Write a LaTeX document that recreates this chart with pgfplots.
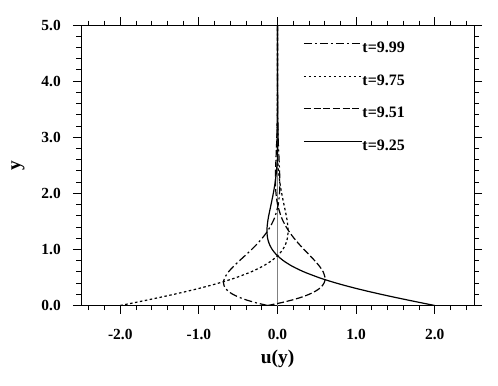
\documentclass[border=0pt]{standalone}
\usepackage{fontspec}
\setmainfont{Liberation Serif}
\usepackage{pgfplots}
\pgfplotsset{compat=1.18}
\begin{document}
\begin{tikzpicture}
\useasboundingbox (-81bp,-80.5bp) rectangle (417bp,305.5bp);
\begin{axis}[
  at={(0,0)}, anchor=south west,
  scale only axis, width=393bp, height=280.5bp,
  xmin=-2.5, xmax=2.5, ymin=0, ymax=5,
  xtick={-2,-1,0,1,2}, xticklabels={-2.0,-1.0,0.0,1.0,2.0},
  ytick={0,1,2,3,4,5}, yticklabels={0.0,1.0,2.0,3.0,4.0,5.0},
  minor xtick={-2.4,-2.2,-1.8,-1.6,-1.4,-1.2,-0.8,-0.6,-0.4,-0.2,0.2,0.4,0.6,0.8,1.2,1.4,1.6,1.8,2.2,2.4},
  minor ytick={0.2,0.4,0.6,0.8,1.2,1.4,1.6,1.8,2.2,2.4,2.6,2.8,3.2,3.4,3.6,3.8,4.2,4.4,4.6,4.8},
  tick align=outside,
  major tick length=8bp, minor tick length=4.5bp,
  tick style={black, line width=0.8bp},
  axis line style={line width=0.8bp},
  tick label style={font=\fontsize{15.5}{17}\selectfont\bfseries},
  xticklabel style={anchor=base, inner sep=0pt, yshift=-25.5bp},
  yticklabel style={anchor=east, inner sep=0pt, xshift=-12bp},
  xlabel={u(y)}, ylabel={y},
  label style={font=\fontsize{19.5}{21}\selectfont\bfseries},
  xlabel style={at={(axis description cs:0.5,-0.1907)}, anchor=center},
  ylabel style={at={(axis description cs:-0.1603,0.5)}, anchor=center},
  legend style={draw=none, fill=none, inner sep=0pt, at={(0.565,1)}, anchor=north west, yshift=-17.3bp,
    nodes={inner sep=0pt, text height=10bp, text depth=3bp, font=\fontsize{16}{18}\selectfont\bfseries},
    row sep=19.5bp},
  legend image code/.code={\draw[#1] (0bp,5.4bp) -- (58bp,5.4bp);},
  legend cell align=left,
]
\addplot[gray, line width=0.4bp, forget plot] coordinates {(0,0) (0,5)};
% t=9.99 dash-dot
\addplot[black, line width=1.2bp, smooth, dash pattern=on 8bp off 3bp on 2bp off 3bp] coordinates {
(-0.126,0) (-0.2766,0.05) (-0.3987,0.1) (-0.4952,0.15) (-0.5689,0.2) (-0.6225,0.25) (-0.6585,0.3) (-0.6791,0.35) (-0.6866,0.4) (-0.6830,0.45) (-0.6702,0.5) (-0.6234,0.6) (-0.5579,0.7) (-0.4824,0.8) (-0.4043,0.9) (-0.3279,1.0) (-0.2573,1.1) (-0.1942,1.2) (-0.1396,1.3) (-0.0940,1.4) (-0.0571,1.5) (-0.0281,1.6) (0.0092,1.8) (0.0261,2.0) (0.0295,2.2) (0.0262,2.4) (0.0200,2.6) (0.0134,2.8) (0.0077,3.0) (0.0,3.5) (0,4) (0,4.5) (0,5)};
\addlegendentry{t=9.99}
% t=9.75 dotted
\addplot[black, line width=1.2bp, smooth, dash pattern=on 2.5bp off 2.5bp] coordinates {
(-2.0,0) (-1.8232,0.05) (-1.6487,0.1) (-1.4791,0.15) (-1.3157,0.2) (-1.1600,0.25) (-1.0129,0.3) (-0.8750,0.35) (-0.7470,0.4) (-0.6291,0.45) (-0.5212,0.5) (-0.3354,0.6) (-0.1874,0.7) (-0.0737,0.8) (0.0099,0.9) (0.0681,1.0) (0.1053,1.1) (0.1259,1.2) (0.1336,1.3) (0.1321,1.4) (0.1240,1.5) (0.1120,1.6) (0.0821,1.8) (0.0532,2.0) (0.0293,2.2) (0.0126,2.4) (0.0021,2.6) (-0.0035,2.8) (-0.0056,3.0) (-0.0041,3.5) (0,4) (0,4.5) (0,5)};
\addlegendentry{t=9.75}
% t=9.51 dashed
\addplot[black, line width=1.2bp, smooth, dash pattern=on 7bp off 2.7bp] coordinates {
(-0.126,0) (0.0468,0.05) (0.1909,0.1) (0.3088,0.15) (0.4031,0.2) (0.4763,0.25) (0.5309,0.3) (0.5689,0.35) (0.5924,0.4) (0.6038,0.45) (0.6046,0.5) (0.5812,0.6) (0.5343,0.7) (0.4732,0.8) (0.4055,0.9) (0.3365,1.0) (0.2705,1.1) (0.2100,1.2) (0.1564,1.3) (0.1106,1.4) (0.0727,1.5) (0.0423,1.6) (0.0012,1.8) (-0.0193,2.0) (-0.0259,2.2) (-0.0246,2.4) (-0.0198,2.6) (-0.0138,2.8) (-0.0085,3.0) (-0.0006,3.5) (0,4) (0,4.5) (0,5)};
\addlegendentry{t=9.51}
% t=9.25 solid
\addplot[black, line width=1.2bp, smooth] coordinates {
(2.0,0) (1.8232,0.05) (1.6487,0.1) (1.4791,0.15) (1.3157,0.2) (1.1600,0.25) (1.0129,0.3) (0.8750,0.35) (0.7470,0.4) (0.6291,0.45) (0.5212,0.5) (0.3354,0.6) (0.1874,0.7) (0.0737,0.8) (-0.0099,0.9) (-0.0681,1.0) (-0.1053,1.1) (-0.1259,1.2) (-0.1336,1.3) (-0.1321,1.4) (-0.1240,1.5) (-0.1120,1.6) (-0.0821,1.8) (-0.0532,2.0) (-0.0293,2.2) (-0.0126,2.4) (-0.0021,2.6) (0.0035,2.8) (0.0056,3.0) (0.0041,3.5) (0,4.0) (0,4.5) (0,5.0)};
\addlegendentry{t=9.25}
\end{axis}
\end{tikzpicture}
\end{document}
